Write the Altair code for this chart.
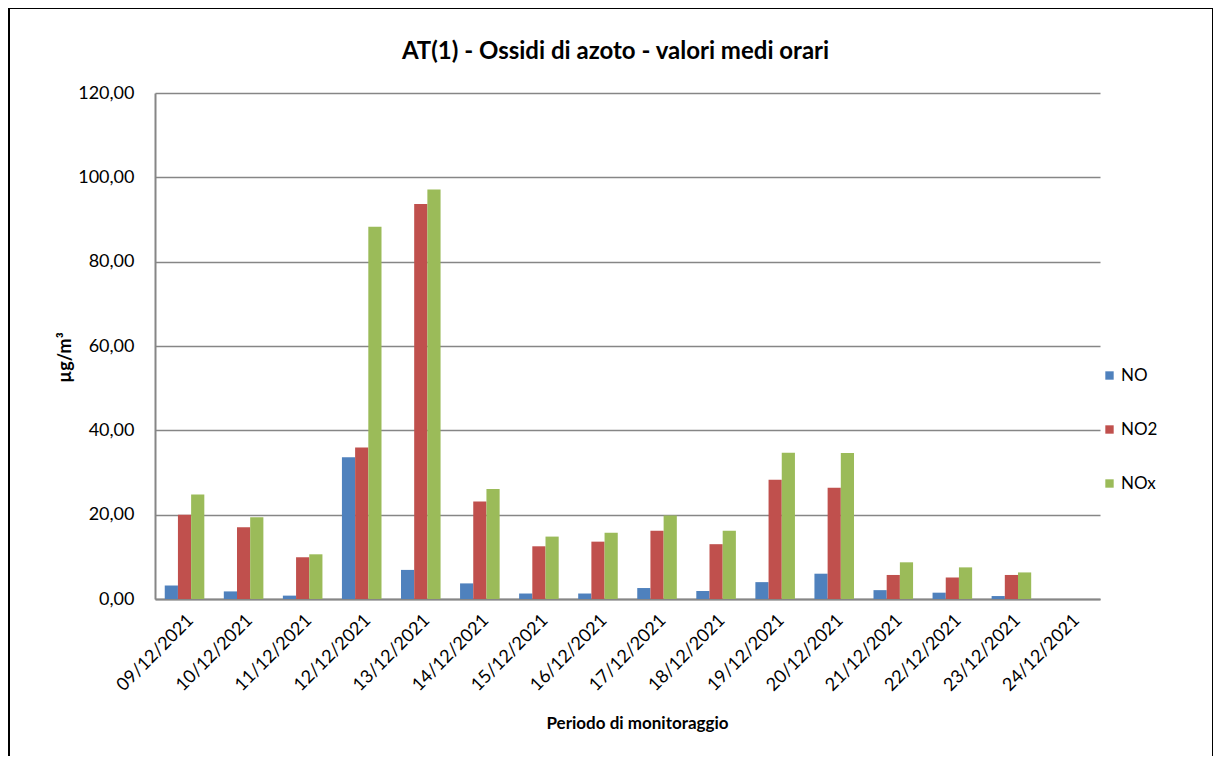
import altair as alt
import pandas as pd

dates = ["09/12/2021", "10/12/2021", "11/12/2021", "12/12/2021", "13/12/2021",
         "14/12/2021", "15/12/2021", "16/12/2021", "17/12/2021", "18/12/2021",
         "19/12/2021", "20/12/2021", "21/12/2021", "22/12/2021", "23/12/2021",
         "24/12/2021"]
no = [3.2, 1.8, 0.8, 33.6, 6.9, 3.7, 1.3, 1.3, 2.6, 1.9, 4.0, 6.0, 2.1, 1.5, 0.7, None]
no2 = [20.0, 17.0, 9.9, 35.9, 93.7, 23.1, 12.5, 13.6, 16.2, 13.0, 28.3, 26.4, 5.7, 5.1, 5.7, None]
nox = [24.8, 19.4, 10.6, 88.3, 97.1, 26.1, 14.8, 15.7, 19.8, 16.2, 34.7, 34.6, 8.7, 7.5, 6.3, None]
series = ["NO", "NO2", "NOx"]
colors = ["#4F81BD", "#C0504D", "#9BBB59"]
y_ticks = [0, 20, 40, 60, 80, 100, 120]

rows = []
for name, vals in zip(series, [no, no2, nox]):
    for d, v in zip(dates, vals):
        if v is not None:
            rows.append({"date": d, "series": name, "value": v})
df = pd.DataFrame(rows)

FONT = "Lato"

bars = alt.Chart(df).mark_bar().encode(
    x=alt.X("date:N",
            scale=alt.Scale(domain=dates, paddingInner=0.33, paddingOuter=0.165),
            axis=alt.Axis(title="Periodo di monitoraggio", labelAngle=-45,
                          labelFontSize=18, labelFont=FONT, labelColor="#000000",
                          labelPadding=12, ticks=False,
                          titleFont=FONT, titleFontSize=17, titleFontWeight="bold",
                          titleColor="#000000", titlePadding=21, titleX=482,
                          domainColor="#868686", domainWidth=2)),
    xOffset=alt.XOffset("series:N", scale=alt.Scale(domain=series)),
    y=alt.Y("value:Q",
            scale=alt.Scale(domain=[0, 120], nice=False),
            axis=alt.Axis(title="µg/m³", values=y_ticks,
                          labelExpr="replace(format(datum.value, '.2f'), '.', ',')",
                          labelFontSize=18, labelFont=FONT, labelColor="#000000",
                          labelPadding=21, ticks=False,
                          grid=True, gridColor="#868686", gridWidth=1.3,
                          titleFont=FONT, titleFontSize=18, titleFontWeight="bold",
                          titleColor="#000000", titlePadding=3, titleY=264,
                          domainColor="#868686", domainWidth=2)),
    color=alt.Color("series:N", scale=alt.Scale(domain=series, range=colors),
                    legend=alt.Legend(title=None, orient="none", legendX=946, legendY=274,
                                      rowPadding=36, symbolType="square", symbolSize=70,
                                      symbolStrokeWidth=0, labelFontSize=17, labelOffset=3,
                                      labelFont=FONT, labelColor="#000000")),
)

frame_df = pd.DataFrame({"k": [0]})
frame_left = alt.Chart(frame_df).mark_rule(color="#000000", strokeWidth=2, clip=False).encode(
    x=alt.value(-146), y=alt.value(-85), y2=alt.value(680))
frame_top = alt.Chart(frame_df).mark_rule(color="#000000", strokeWidth=2, clip=False).encode(
    x=alt.value(-146), x2=alt.value(1058), y=alt.value(-85))
frame_right = alt.Chart(frame_df).mark_rule(color="#000000", strokeWidth=2, clip=False).encode(
    x=alt.value(1058), y=alt.value(-85), y2=alt.value(680))

chart = alt.layer(bars, frame_left, frame_top, frame_right).properties(
    width=945, height=506,
    padding={"left": 147, "top": 85, "right": 113, "bottom": 157},
    autosize=alt.AutoSizeParams(type="none"),
    title=alt.Title("AT(1) - Ossidi di azoto - valori medi orari", font=FONT,
                    fontSize=24, fontWeight="bold", color="#000000",
                    anchor="middle", frame="group", offset=0, dy=57, dx=-12),
).configure(background="#ffffff").configure_view(stroke="transparent", strokeWidth=0)

chart.save("out.html", embed_options={"renderer": "svg", "actions": False})
